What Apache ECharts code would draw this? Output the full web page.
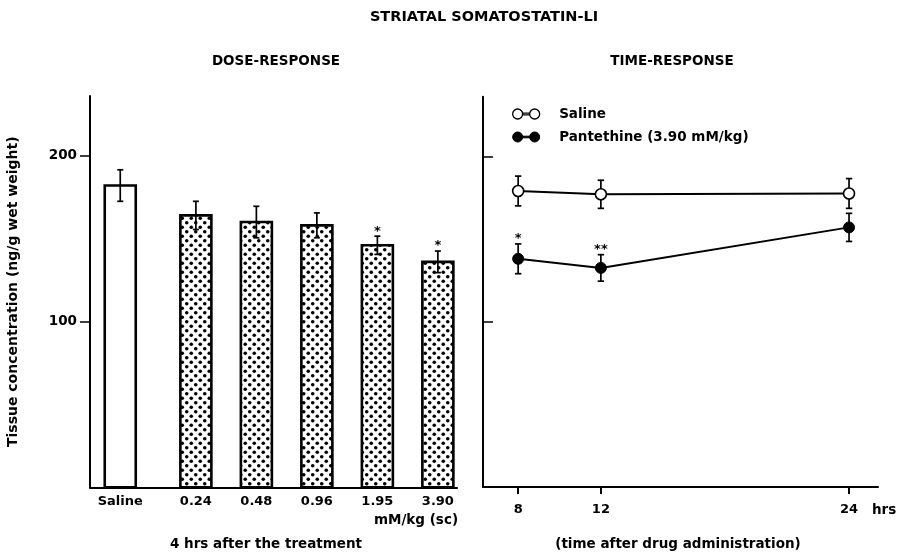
<!DOCTYPE html>
<html><head><meta charset="utf-8">
<script src="https://cdn.jsdelivr.net/npm/echarts@6/dist/echarts.min.js"></script>
<style>html,body{margin:0;padding:0;background:#fff}#c{width:899px;height:552px}</style>
</head><body><div id="c"></div>
<script>
// ---- data ----
const doseCategories = ['Saline', '0.24', '0.48', '0.96', '1.95', '3.90'];
const doseMeans = [182, 164, 160, 158, 146, 136];
const doseErrors = [9.5, 8.5, 9.5, 7.5, 5.5, 6.5];
const doseSignif = ['', '', '', '', '*', '*'];

const hours = [8, 12, 24];
const salineMeans = [179, 177, 177.5];
const salineErrors = [9, 8.5, 9];
const pantethineMeans = [138, 132.5, 157];
const pantethineErrors = [9, 8, 8.5];
const pantethineSignif = ['*', '**', ''];

const yTickValues = [100, 200];
const hourTickValues = [8, 12, 24];

// ---- styling / layout ----
const FONT = '"DejaVu Sans", "Liberation Sans", sans-serif';
const fontStr = (sz) => 'bold ' + sz + 'px ' + FONT;

const pc = document.createElement('canvas');
pc.width = 9; pc.height = 9;
const g = pc.getContext('2d');
g.fillStyle = '#fff'; g.fillRect(0, 0, 9, 9);
g.fillStyle = '#000';
[[2.25, 2.25], [6.75, 6.75]].forEach(([x, y]) => { g.beginPath(); g.arc(x, y, 1.8, 0, Math.PI * 2); g.fill(); });
const dotPattern = { image: pc, repeat: 'repeat' };

// slot position on the dose axis: saline separated by an extra gap
const slot = i => (i === 0 ? 0.5 : i + 0.75);
const doseData = doseCategories.map((c, i) => [slot(i), doseMeans[i], doseErrors[i], i]);
const salineErrData = hours.map((h, i) => [h, salineMeans[i], salineErrors[i], -1]);
const pantErrData = hours.map((h, i) => [h, pantethineMeans[i], pantethineErrors[i], i]);

function errorBar(api, x, v, e, capHalf, lw) {
  const t = api.coord([x, v + e]), b = api.coord([x, v - e]);
  const st = { stroke: '#000', lineWidth: lw };
  return [
    { type: 'line', shape: { x1: t[0], y1: t[1], x2: b[0], y2: b[1] }, style: st },
    { type: 'line', shape: { x1: t[0] - capHalf, y1: t[1], x2: t[0] + capHalf, y2: t[1] }, style: st },
    { type: 'line', shape: { x1: b[0] - capHalf, y1: b[1], x2: b[0] + capHalf, y2: b[1] }, style: st }
  ];
}
function sigText(api, x, v, e, txt) {
  const t = api.coord([x, v + e]);
  return { type: 'text', x: t[0], y: t[1] - 5, style: { text: txt, font: fontStr(13), fill: '#000', align: 'center', verticalAlign: 'middle' } };
}

const openPath = 'path://M0,5A5,5,0,1,0,10,5A5,5,0,1,0,0,5ZM17,5A5,5,0,1,0,27,5A5,5,0,1,0,17,5ZM10,4.2L17,4.2L17,5.8L10,5.8Z';

const yMax = 236;
const axisLineStyle = { lineStyle: { color: '#000', width: 2 } };
const TXT = 13.5;

const option = {
  backgroundColor: '#fff',
  animation: false,
  grid: [
    { left: 90, top: 96, width: 367, height: 391.4 },
    { left: 483, top: 96.7, width: 395, height: 390.4 }
  ],
  xAxis: [
    {
      type: 'value', gridIndex: 0, min: 0, max: 367 / 60.5,
      axisLine: axisLineStyle, axisTick: { show: false }, splitLine: { show: false },
      axisLabel: {
        customValues: doseCategories.map((c, i) => slot(i)),
        formatter: v => { const i = doseCategories.findIndex((c, k) => Math.abs(slot(k) - v) < 1e-6); return i >= 0 ? doseCategories[i] : ''; },
        color: '#000', fontFamily: FONT, fontWeight: 'bold', fontSize: 13, margin: 8
      }
    },
    {
      type: 'value', gridIndex: 1, min: 6.3, max: 25.4,
      axisLine: axisLineStyle, splitLine: { show: false },
      axisTick: { customValues: hourTickValues, length: 7, lineStyle: { color: '#000', width: 2 } },
      axisLabel: { customValues: hourTickValues, color: '#000', fontFamily: FONT, fontWeight: 'bold', fontSize: 13, margin: 16 }
    }
  ],
  yAxis: [
    {
      type: 'value', gridIndex: 0, min: 0, max: yMax,
      axisLine: { show: true, lineStyle: { color: '#000', width: 2 } }, splitLine: { show: false },
      axisTick: { customValues: yTickValues, length: 10, lineStyle: { color: '#000', width: 1.5 } },
      axisLabel: { customValues: yTickValues, color: '#000', fontFamily: FONT, fontWeight: 'bold', fontSize: 13.5, margin: 13 },
      name: 'Tissue concentration (ng/g wet weight)', nameLocation: 'middle', nameGap: 70, nameRotate: 90,
      nameTextStyle: { color: '#000', fontFamily: FONT, fontWeight: 'bold', fontSize: 14 }
    },
    {
      type: 'value', gridIndex: 1, min: 0, max: yMax,
      axisLine: { show: true, lineStyle: { color: '#000', width: 2 } }, splitLine: { show: false },
      axisTick: { customValues: yTickValues, inside: true, length: 10, lineStyle: { color: '#000', width: 1.5 } },
      axisLabel: { show: false }
    }
  ],
  legend: {
    orient: 'vertical', left: 512, top: 107, itemWidth: 28, itemHeight: 10, itemGap: 9,
    padding: 0,
    selectedMode: false,
    textStyle: { color: '#000', fontFamily: FONT, fontWeight: 'bold', fontSize: TXT, padding: [0, 0, 0, 14] },
    data: [
      { name: 'Saline', icon: openPath, itemStyle: { color: '#fff', borderColor: '#000', borderWidth: 1.3 } },
      { name: 'Pantethine (3.90 mM/kg)', icon: openPath, itemStyle: { color: '#000', borderColor: '#000', borderWidth: 1 } }
    ]
  },
  graphic: [
    { type: 'text', x: 484, y: 17, style: { text: 'STRIATAL SOMATOSTATIN-LI', font: fontStr(14.5), fill: '#000', textAlign: 'center', textVerticalAlign: 'middle' } },
    { type: 'text', x: 276, y: 61, style: { text: 'DOSE-RESPONSE', font: fontStr(TXT), fill: '#000', textAlign: 'center', textVerticalAlign: 'middle' } },
    { type: 'text', x: 672, y: 61, style: { text: 'TIME-RESPONSE', font: fontStr(TXT), fill: '#000', textAlign: 'center', textVerticalAlign: 'middle' } },
    { type: 'text', x: 416, y: 520, style: { text: 'mM/kg (sc)', font: fontStr(TXT), fill: '#000', textAlign: 'center', textVerticalAlign: 'middle' } },
    { type: 'text', x: 266, y: 544, style: { text: '4 hrs after the treatment', font: fontStr(TXT), fill: '#000', textAlign: 'center', textVerticalAlign: 'middle' } },
    { type: 'text', x: 678, y: 544, style: { text: '(time after drug administration)', font: fontStr(TXT), fill: '#000', textAlign: 'center', textVerticalAlign: 'middle' } },
    { type: 'text', x: 872, y: 510, style: { text: 'hrs', font: fontStr(TXT), fill: '#000', textAlign: 'left', textVerticalAlign: 'middle' } }
  ],
  series: [
    {
      type: 'custom', xAxisIndex: 0, yAxisIndex: 0, data: doseData, encode: { x: 0, y: 1 }, z: 2,
      renderItem: (params, api) => {
        const x = api.value(0), v = api.value(1), e = api.value(2), i = api.value(3);
        const top = api.coord([x, v]), base = api.coord([x, 0]);
        const children = [{
          type: 'rect', shape: { x: top[0] - 15.5, y: top[1], width: 31, height: base[1] - top[1] },
          style: { fill: i === 0 ? '#fff' : dotPattern, stroke: '#000', lineWidth: 2.6 }
        }];
        children.push(...errorBar(api, x, v, e, 3, 1.7));
        if (doseSignif[i]) children.push(sigText(api, x, v, e, doseSignif[i]));
        return { type: 'group', children };
      }
    },
    {
      type: 'custom', xAxisIndex: 1, yAxisIndex: 1, data: salineErrData, encode: { x: 0, y: 1 }, z: 1,
      renderItem: (params, api) => ({ type: 'group', children: errorBar(api, api.value(0), api.value(1), api.value(2), 3.2, 1.7) })
    },
    {
      type: 'custom', xAxisIndex: 1, yAxisIndex: 1, data: pantErrData, encode: { x: 0, y: 1 }, z: 1,
      renderItem: (params, api) => {
        const x = api.value(0), v = api.value(1), e = api.value(2), i = api.value(3);
        const children = errorBar(api, x, v, e, 3.2, 1.7);
        if (pantethineSignif[i]) children.push(sigText(api, x, v, e, pantethineSignif[i]));
        return { type: 'group', children };
      }
    },
    {
      name: 'Saline', type: 'line', xAxisIndex: 1, yAxisIndex: 1, z: 3,
      data: hours.map((h, i) => [h, salineMeans[i]]),
      symbol: 'circle', symbolSize: 11,
      itemStyle: { color: '#fff', borderColor: '#000', borderWidth: 1.6 },
      lineStyle: { color: '#000', width: 2 }
    },
    {
      name: 'Pantethine (3.90 mM/kg)', type: 'line', xAxisIndex: 1, yAxisIndex: 1, z: 3,
      data: hours.map((h, i) => [h, pantethineMeans[i]]),
      symbol: 'circle', symbolSize: 11,
      itemStyle: { color: '#000', borderColor: '#000', borderWidth: 1 },
      lineStyle: { color: '#000', width: 2 }
    }
  ]
};

const chart = echarts.init(document.getElementById('c'), null, { renderer: 'canvas' });
chart.setOption(option);
</script>
</body></html>
